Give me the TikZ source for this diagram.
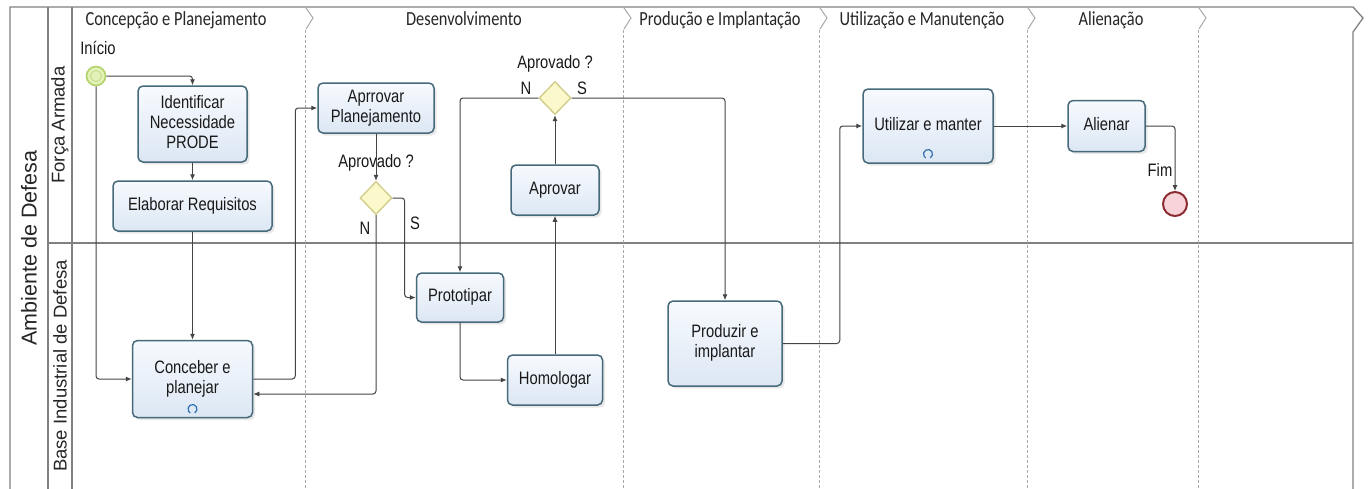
\documentclass[tikz,border=0pt]{standalone}
\usepackage{fontspec}
\setmainfont{Liberation Sans}
\newfontfamily\phasefont{Carlito}
\usepackage{graphicx}
\usetikzlibrary{arrows.meta,shapes.geometric,calc,shadows}
\definecolor{boxborder}{HTML}{466A7A}
\definecolor{boxtop}{HTML}{F7FAFE}
\definecolor{boxbot}{HTML}{DCE7F4}
\definecolor{gwfill}{HTML}{FBF8CC}
\definecolor{gwdraw}{HTML}{CFCB85}
\definecolor{flowc}{HTML}{444444}
\definecolor{poolc}{HTML}{808080}
\definecolor{sepc}{HTML}{A8A8A8}
\definecolor{startfill}{HTML}{E2F2B8}
\definecolor{startdraw}{HTML}{B3D36A}
\definecolor{endfill}{HTML}{F9D3DA}
\definecolor{enddraw}{HTML}{8A2E33}
\definecolor{loopc}{HTML}{2F6FB0}
\newcommand{\sq}[1]{\scalebox{0.82}[1]{\begin{tabular}{@{}c@{}}#1\end{tabular}}}
\begin{document}
\begin{tikzpicture}[x=1pt,y=-1pt,
 task/.style={rectangle, rounded corners=5pt, draw=boxborder, line width=1.5pt, top color=boxtop, bottom color=boxbot, drop shadow={opacity=0.18,shadow xshift=2.5pt,shadow yshift=-2.5pt}, inner sep=0pt, font=\fontsize{18}{20}\selectfont, text=black!90},
 gateway/.style={diamond, draw=gwdraw, line width=1.3pt, fill=gwfill, minimum width=32pt, minimum height=33pt, inner sep=0pt},
 flow/.style={draw=flowc, line width=1pt, rounded corners=3pt, -{Latex[length=6pt,width=5pt]}},
 lbl/.style={font=\fontsize{18}{20}\selectfont, text=black!90, inner sep=0pt},
 phase/.style={font=\phasefont\fontsize{20}{22}\selectfont, text=black!85, inner sep=0pt},
 lane/.style={rotate=90, font=\fontsize{18.5}{20}\selectfont, text=black!85, inner sep=0pt},
 poolline/.style={draw=poolc, line width=1.3pt},
 sepline/.style={draw=sepc, line width=1pt, dash pattern=on 3pt off 2pt},
 chev/.style={draw=sepc, line width=1pt},
 loopmark/.style={draw=loopc, line width=1.2pt},
]
\fill[white] (0,0) rectangle (1368,488);
\useasboundingbox (0,0) rectangle (1368,488);

% pool and lanes
\draw[poolline] (10,490) -- (10,7) -- (1353,7) -- (1363,18) -- (1353,32) -- (1353,490);
\draw[poolline] (48,7) -- (48,490);
\draw[poolline] (72,7) -- (72,490);
\draw[poolline] (48,243) -- (1353,243);

% phase separators
\foreach \x in {305,623,819,1027,1198} {
  \draw[chev] (\x+1,8) -- (\x+8,18) -- (\x+1,29);
  \draw[sepline] (\x,30) -- (\x,490);
}

% labels of pool, lanes, phases
\node[lane, font=\fontsize{21.5}{24}\selectfont] (pool) at (29,248) {Ambiente de Defesa};
\node[lane] (lfa) at (60,125) {Força Armada};
\node[lane] (lbi) at (60,366) {Base Industrial de Defesa};
\node[phase] (ph1) at (176,21) {\sq{Concepção e Planejamento}};
\node[phase] (ph2) at (464,21) {\sq{Desenvolvimento}};
\node[phase] (ph3) at (720,21) {\sq{Produção e Implantação}};
\node[phase] (ph4) at (922,21) {\sq{Utilização e Manutenção}};
\node[phase] (ph5) at (1111,21) {\sq{Alienação}};

% events
\node[circle, draw=startdraw, fill=startfill, line width=1.6pt, minimum size=19pt, inner sep=0pt] (start) at (96,76) {};
\draw[startdraw!80, line width=0.9pt] (start.center) circle[radius=5.5pt];
\node[circle, draw=enddraw, fill=endfill, line width=2pt, minimum size=24pt, inner sep=0pt] (fim) at (1175,204) {};

% tasks
\node[task, minimum width=109pt, minimum height=76pt] (ident) at (192.5,124) {\sq{Identificar\\Necessidade\\PRODE}};
\node[task, minimum width=159pt, minimum height=50pt] (elab) at (192.5,206) {\sq{Elaborar Requisitos}};
\node[task, minimum width=120pt, minimum height=77pt] (conc) at (192.5,379) {\sq{Conceber e\\planejar}};
\node[task, minimum width=116pt, minimum height=50pt] (aprPl) at (376,108) {\sq{Aprrovar\\Planejamento}};
\node[task, minimum width=87pt, minimum height=49pt] (proto) at (460,297.5) {\sq{Prototipar}};
\node[task, minimum width=95pt, minimum height=50pt] (homol) at (555,380) {\sq{Homologar}};
\node[task, minimum width=88pt, minimum height=50pt] (aprov) at (555,190) {\sq{Aprovar}};
\node[task, minimum width=114pt, minimum height=85pt] (prod) at (725,343.5) {\sq{Produzir e\\implantar}};
\node[task, minimum width=130pt, minimum height=74pt] (util) at (928,126) {\sq{Utilizar e manter}};
\node[task, minimum width=77pt, minimum height=51pt] (alien) at (1106.5,126) {\sq{Alienar}};

% loop markers
\draw[loopmark] (192.5,409) ++(-60:4.5pt) arc[start angle=-60, end angle=240, radius=4.5pt];
\draw[loopmark] (928,154) ++(-60:4.5pt) arc[start angle=-60, end angle=240, radius=4.5pt];

% gateways
\node[gateway] (gw1) at (376,198) {};
\node[gateway] (gw2) at (555,98) {};

% text labels
\node[lbl] (linicio) at (98,50) {\sq{Início}};
\node[lbl] (lfim) at (1160,172) {\sq{Fim}};
\node[lbl] (lgw1) at (376,163) {\sq{Aprovado ?}};
\node[lbl] (lgw2) at (555,64) {\sq{Aprovado ?}};
\node[lbl] (n1) at (365,230) {\sq{N}};
\node[lbl] (s1) at (415,225) {\sq{S}};
\node[lbl] (n2) at (526,90) {\sq{N}};
\node[lbl] (s2) at (582,90) {\sq{S}};

% flows
\draw[flow] (start.east) -| (ident.north);
\draw[flow] (start.south) |- (conc.west);
\draw[flow] (ident.south) -- (elab.north);
\draw[flow] (elab.south) -- (conc.north);
\draw[flow] (conc.east) -- ++(42,0) |- (aprPl.west);
\draw[flow] (aprPl.south) -- (gw1.north);
\draw[flow] (gw1.south) |- ($(conc.east)+(0,15)$);
\draw[flow] (gw1.east) -- ++(12,0) |- (proto.west);
\draw[flow] (proto.south) |- (homol.west);
\draw[flow] (homol.north) -- (aprov.south);
\draw[flow] (aprov.north) -- (gw2.south);
\draw[flow] (gw2.west) -| (proto.north);
\draw[flow] (gw2.east) -| (prod.north);
\draw[flow] (prod.east) -- ++(57,0) |- (util.west);
\draw[flow] (util.east) -- (alien.west);
\draw[flow] (alien.east) -| (fim.north);
\end{tikzpicture}
\end{document}
